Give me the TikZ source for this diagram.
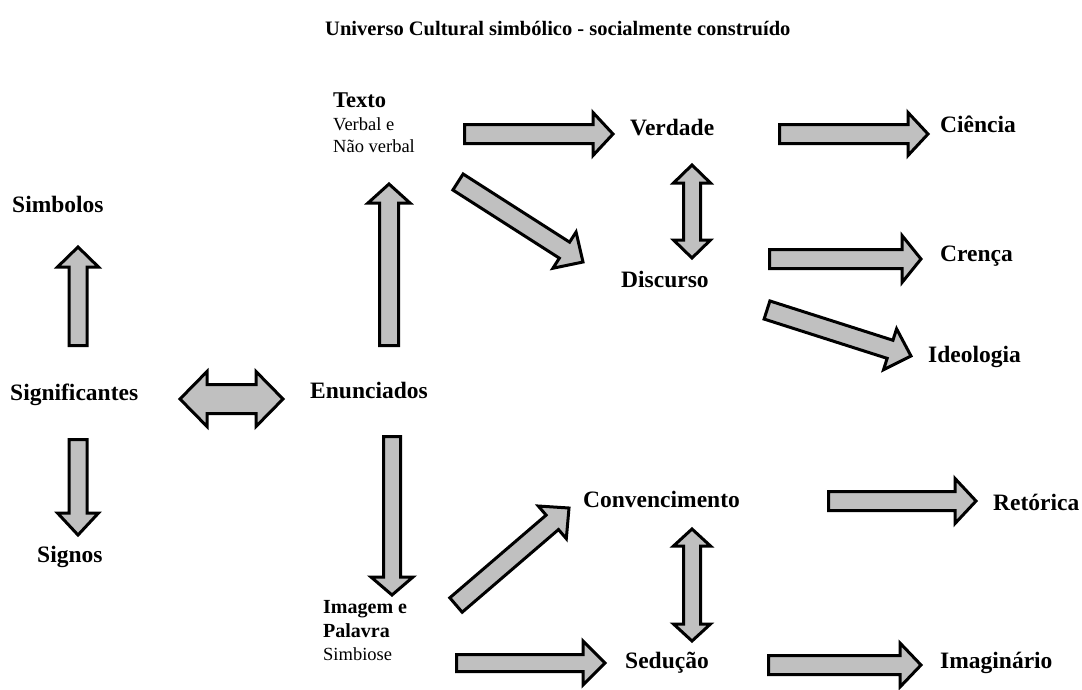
\documentclass[tikz,border=0pt]{standalone}
\usepackage{fontspec}
\setmainfont{Liberation Serif}
\usetikzlibrary{calc}
\definecolor{arrfill}{RGB}{192,192,192}
% block arrow: from, to, shaft half width, head half width, head length
\newcommand\barrow[5]{%
  \coordinate (hb) at ($(#2)!#5pt!(#1)$);
  \draw[blk] ($(#1)!#3pt!90:(#2)$) -- ($(hb)!#3pt!90:(#2)$) -- ($(hb)!#4pt!90:(#2)$) -- (#2)
    -- ($(hb)!#4pt!-90:(#2)$) -- ($(hb)!#3pt!-90:(#2)$) -- ($(#1)!#3pt!-90:(#2)$) -- cycle;
}
% double block arrow
\newcommand\dbarrow[5]{%
  \coordinate (ha) at ($(#1)!#5pt!(#2)$);
  \coordinate (hb) at ($(#2)!#5pt!(#1)$);
  \draw[blk] (#1) -- ($(ha)!#4pt!90:(#2)$) -- ($(ha)!#3pt!90:(#2)$) -- ($(hb)!#3pt!90:(#2)$)
    -- ($(hb)!#4pt!90:(#2)$) -- (#2) -- ($(hb)!#4pt!-90:(#2)$) -- ($(hb)!#3pt!-90:(#2)$)
    -- ($(ha)!#3pt!-90:(#2)$) -- ($(ha)!#4pt!-90:(#2)$) -- cycle;
}
\begin{document}
\begin{tikzpicture}[x=1pt,y=-1pt,
  blk/.style={draw=black,line width=3pt,fill=arrfill,line join=miter},
  lab/.style={anchor=base west,inner sep=0pt,font=\fontsize{23.5}{28}\selectfont\bfseries},
  midlab/.style={anchor=base west,inner sep=0pt,font=\fontsize{20}{24}\selectfont\bfseries},
  sub/.style={anchor=base west,inner sep=0pt,font=\fontsize{18.5}{22}\selectfont},
  ttl/.style={anchor=base west,inner sep=0pt,font=\fontsize{20.5}{24}\selectfont\bfseries}]
\useasboundingbox (0,0) rectangle (1082,689);
\fill[white] (0,0) rectangle (1082,689);

% labels
\node[ttl] (title) at (325,35) {Universo Cultural simbólico - socialmente construído};
\node[lab] (simb) at (12,212) {Simbolos};
\node[lab] (signif) at (10,400) {Significantes};
\node[lab] (signos) at (37,562) {Signos};
\node[lab] (enun) at (310,398) {Enunciados};
\node[lab,font=\fontsize{22.5}{26}\selectfont\bfseries] (texto) at (333,107) {Texto};
\node[sub] (verbal1) at (333,130) {Verbal e};
\node[sub] (verbal2) at (333,152) {Não verbal};
\node[lab] (verdade) at (630,135) {Verdade};
\node[lab] (discurso) at (621,287) {Discurso};
\node[lab] (ciencia) at (940,132) {Ciência};
\node[lab] (crenca) at (940,261) {Crença};
\node[lab] (ideo) at (928,362) {Ideologia};
\node[lab] (conv) at (583,507) {Convencimento};
\node[lab] (ret) at (993,510) {Retórica};
\node[midlab] (imag) at (323,613) {Imagem e};
\node[midlab] (pal) at (323,637) {Palavra};
\node[sub] (simbiose) at (323,660) {Simbiose};
\node[lab] (sed) at (625,668) {Sedução};
\node[lab] (imagin) at (940,668) {Imaginário};

% arrow end points
\coordinate (a1s) at (78,345.5);   \coordinate (a1e) at (78,247);
\coordinate (a2s) at (78,439.5);   \coordinate (a2e) at (78,535);
\coordinate (a3s) at (180,399);    \coordinate (a3e) at (283,399);
\coordinate (a4s) at (389,345.5);  \coordinate (a4e) at (389,184);
\coordinate (a5s) at (392,436.5);  \coordinate (a5e) at (392,595);
\coordinate (a6s) at (464.5,134);  \coordinate (a6e) at (613,134);
\coordinate (a7s) at (458,182);    \coordinate (a7e) at (583,262);
\coordinate (a8s) at (692,165);    \coordinate (a8e) at (692,258);
\coordinate (a9s) at (779.5,134);  \coordinate (a9e) at (928,134);
\coordinate (a10s) at (769.5,259); \coordinate (a10e) at (921,259);
\coordinate (a11s) at (767,310);   \coordinate (a11e) at (911,356);
\coordinate (a12s) at (456,605);   \coordinate (a12e) at (569,508);
\coordinate (a13s) at (692,529);   \coordinate (a13e) at (692,641);
\coordinate (a14s) at (456.5,663); \coordinate (a14e) at (605,663);
\coordinate (a15s) at (828.5,501); \coordinate (a15e) at (976,501);
\coordinate (a16s) at (768.5,665); \coordinate (a16e) at (921,665);

% arrows
\barrow{a1s}{a1e}{9}{20.5}{20}
\barrow{a2s}{a2e}{9}{20.5}{22}
\dbarrow{a3s}{a3e}{14.5}{27.5}{27}
\barrow{a4s}{a4e}{9.5}{21}{19}
\barrow{a5s}{a5e}{8.5}{21}{18}
\barrow{a6s}{a6e}{9.5}{21.5}{20}
\barrow{a7s}{a7e}{9.5}{21.5}{22}
\dbarrow{a8s}{a8e}{8.5}{18.5}{18}
\barrow{a9s}{a9e}{9.5}{21.5}{20}
\barrow{a10s}{a10e}{9.5}{23.5}{19}
\barrow{a11s}{a11e}{9.5}{21.5}{22}
\barrow{a12s}{a12e}{9.5}{21.5}{22}
\dbarrow{a13s}{a13e}{8.5}{18.5}{17}
\barrow{a14s}{a14e}{8.5}{22}{22}
\barrow{a15s}{a15e}{9.5}{22.5}{21}
\barrow{a16s}{a16e}{9.5}{22}{21}
\end{tikzpicture}
\end{document}
